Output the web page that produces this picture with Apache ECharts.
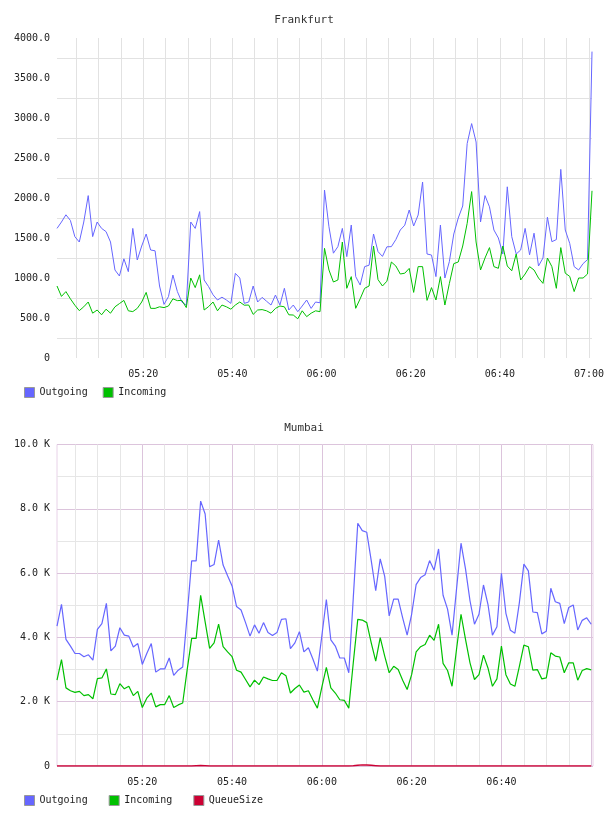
<!DOCTYPE html>
<html>
<head>
<meta charset="utf-8">
<script src="https://cdn.jsdelivr.net/npm/echarts@6/dist/echarts.min.js"></script>
<style>
html, body { margin: 0; padding: 0; background: #fff; }
#fra, #mum { width: 608px; height: 408px; }
</style>
</head>
<body>
<div id="fra"></div>
<div id="mum"></div>
<script>
// Frankfurt: one sample per minute, first one at 05:00:40 (minutes after 05:00)
var fraStart = 2 / 3;
var fraOutgoing = [1620, 1700, 1790, 1720, 1517, 1450, 1700, 2030, 1517, 1700,
  1620, 1580, 1450, 1100, 1025, 1240, 1079, 1620, 1225, 1400,
  1550, 1350, 1340, 900, 670, 767, 1037, 830, 700, 660,
  1700, 1620, 1830, 975, 892, 790, 725, 760, 725, 683,
  1058, 1000, 683, 700, 900, 700, 758, 710, 662, 787,
  662, 871, 600, 662, 579, 650, 725, 620, 700, 690,
  2100, 1640, 1310, 1392, 1620, 1267, 1662, 1017, 912, 1142,
  1160, 1550, 1330, 1270, 1390, 1392, 1480, 1600, 1660, 1850,
  1650, 1787, 2200, 1300, 1287, 1017, 1662, 1000, 1204, 1550,
  1750, 1900, 2680, 2930, 2700, 1700, 2030, 1890, 1600, 1500,
  1300, 2140, 1517, 1300, 1350, 1620, 1290, 1560, 1150, 1250,
  1760, 1454, 1480, 2358, 1600, 1433, 1142, 1100, 1180, 1230,
  3830];
var fraIncoming = [900, 770, 830, 740, 660, 592, 640, 700, 560, 600,
  540, 610, 560, 640, 680, 720, 590, 580, 620, 700,
  820, 621, 620, 640, 630, 650, 740, 717, 720, 630,
  1000, 880, 1040, 600, 642, 700, 590, 662, 640, 610,
  662, 700, 660, 662, 545, 600, 605, 590, 560, 620,
  650, 640, 540, 537, 490, 590, 517, 560, 590, 579,
  1371, 1100, 950, 975, 1450, 871, 1017, 621, 740, 871,
  900, 1400, 980, 900, 960, 1200, 1150, 1050, 1060, 1120,
  820, 1142, 1142, 720, 880, 725, 1017, 662, 930, 1180,
  1200, 1400, 1683, 2080, 1450, 1100, 1250, 1380, 1142, 1121,
  1400, 1150, 1090, 1300, 975, 1050, 1142, 1100, 1000, 933,
  1250, 1142, 871, 1380, 1060, 1020, 830, 1000, 1000, 1050,
  2090];

// Mumbai: one sample per minute, 05:01 .. 07:00
var mumStart = 1;
var mumOutgoing = [4350, 5030, 3940, 3730, 3500, 3500, 3400, 3460, 3290, 4250,
  4430, 5060, 3580, 3730, 4300, 4070, 4040, 3700, 3810, 3160,
  3500, 3810, 2920, 3020, 3020, 3360, 2820, 2980, 3080, 4700,
  6380, 6380, 8240, 7840, 6200, 6270, 7030, 6250, 5920, 5600,
  4960, 4850, 4460, 4040, 4390, 4130, 4460, 4150, 4060, 4150,
  4560, 4580, 3650, 3830, 4180, 3550, 3680, 3330, 2950, 4050,
  5180, 3920, 3730, 3360, 3360, 2900, 5230, 7550, 7320, 7270,
  6390, 5450, 6440, 5900, 4670, 5190, 5190, 4610, 4070, 4720,
  5640, 5860, 5950, 6390, 6090, 6750, 5310, 4880, 4070, 5500,
  6930, 6130, 5140, 4410, 4720, 5630, 5030, 4070, 4330, 5990,
  4750, 4220, 4130, 5080, 6280, 6070, 4790, 4770, 4110, 4190,
  5530, 5110, 5060, 4430, 4930, 5010, 4230, 4530, 4610, 4410];
var mumIncoming = [2670, 3310, 2430, 2340, 2290, 2320, 2190, 2220, 2090, 2720,
  2740, 3020, 2240, 2220, 2560, 2400, 2480, 2190, 2320, 1820,
  2110, 2270, 1840, 1910, 1910, 2190, 1820, 1900, 1960, 3000,
  3970, 3970, 5310, 4480, 3660, 3830, 4410, 3710, 3550, 3400,
  2980, 2920, 2690, 2460, 2670, 2530, 2770, 2710, 2660, 2660,
  2900, 2810, 2270, 2410, 2520, 2300, 2340, 2060, 1800, 2450,
  3070, 2430, 2270, 2060, 2040, 1800, 3210, 4560, 4540, 4460,
  3830, 3260, 3990, 3420, 2900, 3100, 3000, 2670, 2380, 2840,
  3550, 3710, 3780, 4070, 3910, 4410, 3190, 2970, 2480, 3630,
  4720, 3940, 3210, 2690, 2840, 3450, 3050, 2480, 2710, 3730,
  2840, 2550, 2480, 3100, 3760, 3710, 2980, 3000, 2710, 2740,
  3520, 3420, 3390, 2900, 3210, 3210, 2670, 2970, 3030, 2990];
var mumQueue = [0, 0, 0, 0, 0, 0, 0, 0, 0, 0,
  0, 0, 0, 0, 0, 0, 0, 0, 0, 0,
  0, 0, 0, 0, 0, 0, 0, 0, 0, 0,
  0, 8, 12, 8, 0, 0, 0, 0, 0, 0,
  0, 0, 0, 0, 0, 0, 0, 0, 0, 0,
  0, 0, 0, 0, 0, 0, 0, 0, 0, 0,
  0, 0, 0, 0, 0, 0, 10, 25, 35, 30,
  20, 10, 0, 0, 0, 0, 0, 0, 0, 0,
  0, 0, 0, 0, 0, 0, 0, 0, 0, 0,
  0, 0, 0, 0, 0, 0, 0, 0, 0, 0,
  0, 0, 0, 0, 0, 0, 0, 0, 0, 0,
  0, 0, 0, 0, 0, 0, 0, 0, 0, 0];

var BLUE = '#6666ff', GREEN = '#00c000', RED = '#cc0033';
var FONT = 'DejaVu Sans Mono';

function pairs(start, values) {
  return values.map(function (v, i) { return [start + i, v]; });
}
function hhmm(v) {
  var h = 5 + Math.floor(v / 60), m = Math.round(v % 60);
  return (h < 10 ? '0' : '') + h + ':' + (m < 10 ? '0' : '') + m;
}
function lineSeries(name, color, data, width) {
  return {
    name: name, type: 'line', data: data, xAxisIndex: 0,
    showSymbol: false, symbol: 'none', animation: false,
    lineStyle: { color: color, width: width || 1 },
    itemStyle: { color: color }
  };
}
function legendOpt(names, gap) {
  return {
    left: 24, top: 387, padding: 0, icon: 'rect', itemWidth: 10, itemHeight: 10, itemGap: gap,
    itemStyle: { borderColor: '#999', borderWidth: 1 },
    textStyle: { fontFamily: FONT, fontSize: 10, color: '#222' },
    data: names
  };
}

// ---------- Frankfurt ----------
var fraChart = echarts.init(document.getElementById('fra'));
fraChart.setOption({
  animation: false,
  title: {
    text: 'Frankfurt', left: 'center', top: 15, padding: 0,
    textStyle: { fontFamily: FONT, fontSize: 11, fontWeight: 'normal', color: '#333' }
  },
  legend: legendOpt(['Outgoing', 'Incoming'], 15),
  grid: { left: 57, right: 16, top: 38, height: 320 },
  xAxis: {
    type: 'value', min: fraStart, max: fraStart + 120,
    splitNumber: 24, minInterval: 5, maxInterval: 5,
    axisLine: { show: false }, axisTick: { show: false },
    axisLabel: {
      margin: 11, fontFamily: FONT, fontSize: 10, color: '#222',
      formatter: function (v) { return (v > 0 && Math.abs(v % 20) < 1e-6) ? hhmm(v) : ''; }
    },
    splitLine: { show: true, showMinLine: false, showMaxLine: false, lineStyle: { color: '#e2e2e2', width: 1 } }
  },
  yAxis: {
    type: 'value', min: 0, max: 4000, interval: 250,
    axisLine: { show: false }, axisTick: { show: false },
    axisLabel: {
      margin: 7, fontFamily: FONT, fontSize: 10, color: '#222',
      formatter: function (v) { return v === 0 ? '0' : (v % 500 === 0 ? v.toFixed(1) : ''); }
    },
    splitLine: { show: true, lineStyle: { color: ['rgba(0,0,0,0)', '#e2e2e2'], width: 1 } }
  },
  series: [
    lineSeries('Outgoing', BLUE, pairs(fraStart, fraOutgoing)),
    lineSeries('Incoming', GREEN, pairs(fraStart, fraIncoming))
  ]
});

// ---------- Mumbai ----------
var mumChart = echarts.init(document.getElementById('mum'));
mumChart.setOption({
  animation: false,
  title: {
    text: 'Mumbai', left: 'center', top: 15, padding: 0,
    textStyle: { fontFamily: FONT, fontSize: 11, fontWeight: 'normal', color: '#333' }
  },
  legend: legendOpt(['Outgoing', 'Incoming', 'QueueSize'], 21),
  grid: { left: 57, right: 15, top: 36.5, height: 321.5, show: true, borderColor: '#e8d2e8', borderWidth: 1, backgroundColor: 'transparent' },
  xAxis: [{
    // minor grid every 5 minutes, carries the data
    type: 'value', min: mumStart, max: 120.4, position: 'bottom',
    splitNumber: 24, minInterval: 5, maxInterval: 5,
    axisLine: { show: false }, axisTick: { show: false }, axisLabel: { show: false },
    splitLine: { show: true, showMinLine: false, showMaxLine: false, lineStyle: { color: '#e6e6e6', width: 1 } }
  }, {
    // major grid + labels every 20 minutes
    type: 'value', min: mumStart, max: 120.4, position: 'bottom',
    splitNumber: 6, minInterval: 20, maxInterval: 20,
    axisLine: { show: false }, axisTick: { show: false },
    axisLabel: {
      margin: 11, fontFamily: FONT, fontSize: 10, color: '#222',
      formatter: function (v) { return (v > 0 && v < 120 && Math.abs(v % 20) < 1e-6) ? hhmm(v) : ''; }
    },
    splitLine: { show: true, showMinLine: false, showMaxLine: false, lineStyle: { color: '#dcc4dc', width: 1 } }
  }],
  yAxis: {
    type: 'value', min: 0, max: 10000, interval: 1000,
    axisLine: { show: false }, axisTick: { show: false },
    axisLabel: {
      margin: 7, fontFamily: FONT, fontSize: 10, color: '#222',
      formatter: function (v) { return v === 0 ? '0' : (v % 2000 === 0 ? (v / 1000).toFixed(1) + ' K' : ''); }
    },
    splitLine: { show: true, lineStyle: { color: ['#dcc4dc', '#e6e6e6'], width: 1 } }
  },
  series: [
    lineSeries('Outgoing', BLUE, pairs(mumStart, mumOutgoing), 1.2),
    lineSeries('Incoming', GREEN, pairs(mumStart, mumIncoming), 1.2),
    lineSeries('QueueSize', RED, pairs(mumStart, mumQueue), 1.5)
  ]
});
</script>
</body>
</html>
